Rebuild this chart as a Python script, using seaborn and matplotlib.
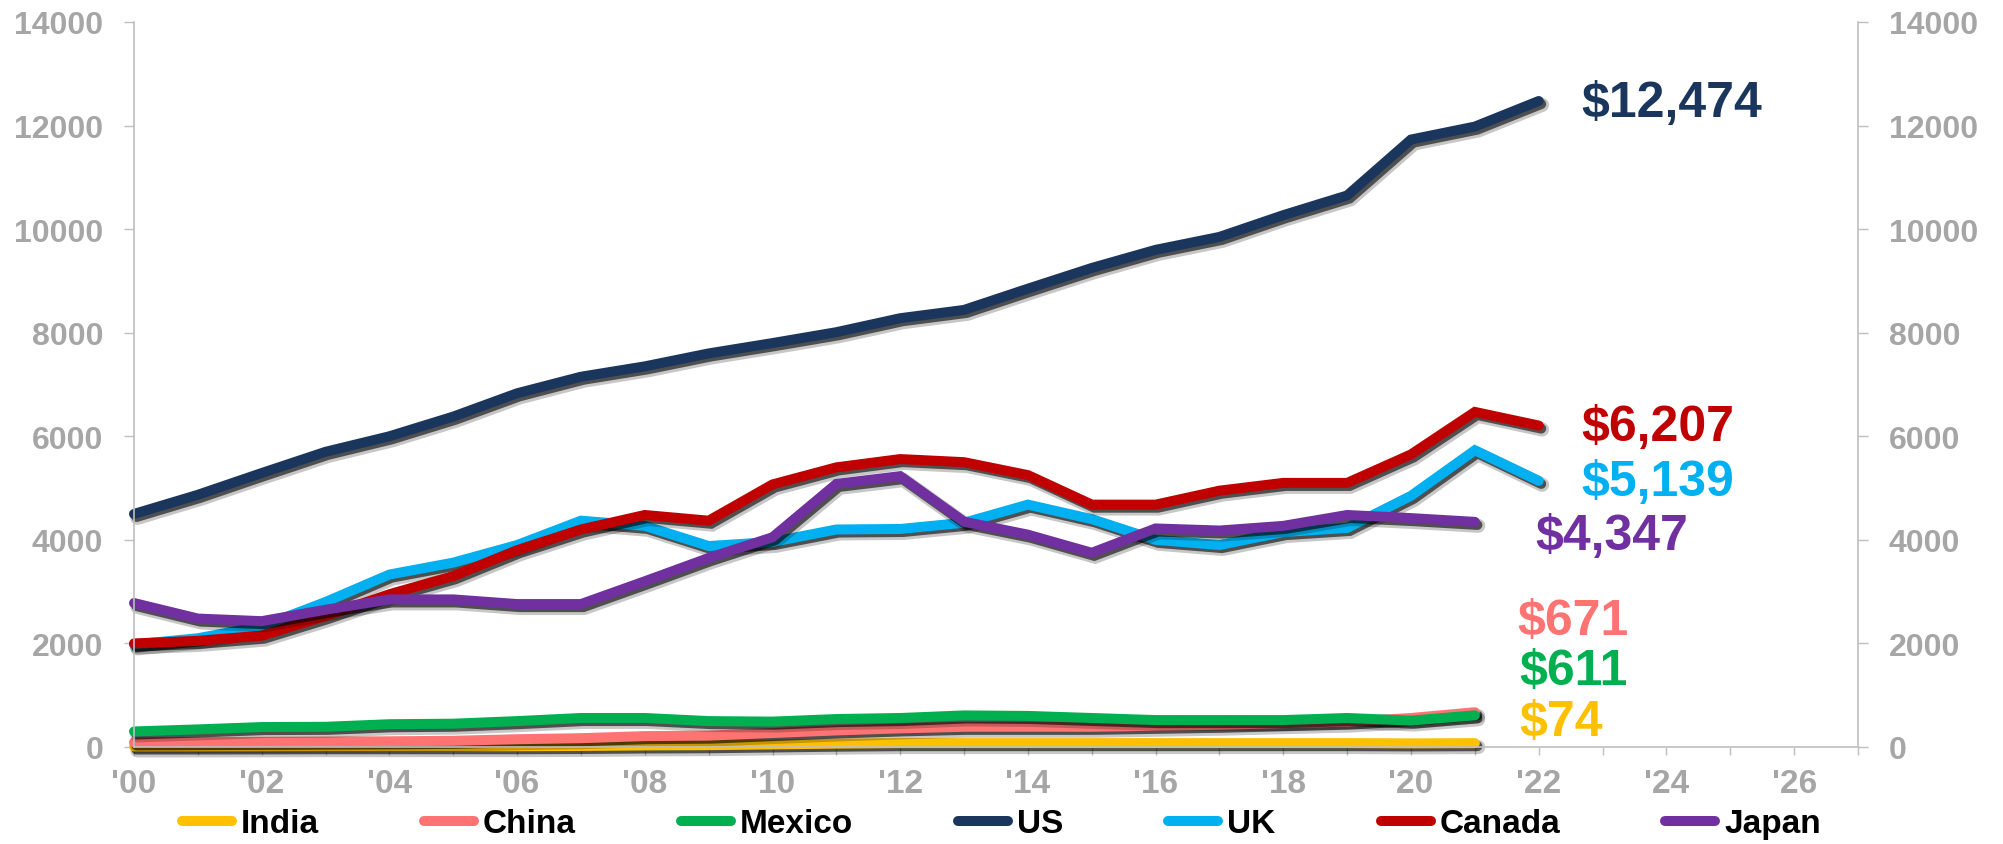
import numpy as np
import pandas as pd
import seaborn as sns
import matplotlib.pyplot as plt
import matplotlib.patheffects as pe
from matplotlib.lines import Line2D
from matplotlib.ticker import MultipleLocator, FuncFormatter

# ---- data -------------------------------------------------------------
years = list(range(2000, 2023))
countries = ["India", "China", "Mexico", "US", "UK", "Canada", "Japan"]

india = [10, 10, 12, 15, 15, 15, 15, 20, 30, 35, 50, 65, 75, 75, 75, 75, 75, 75,
         75, 75, 70, 74, np.nan]
china = [90, 95, 100, 105, 110, 120, 150, 170, 210, 220, 270, 320, 360, 390, 390,
         390, 410, 430, 460, 490, 560, 671, np.nan]
mexico = [300, 340, 385, 390, 440, 450, 500, 560, 560, 500, 490, 540, 560, 610,
          600, 560, 520, 520, 520, 560, 510, 611, np.nan]
us = [4500, 4870, 5290, 5700, 6000, 6380, 6830, 7150, 7350, 7600, 7800, 8010,
      8280, 8440, 8850, 9250, 9600, 9850, 10270, 10650, 11730, 11980, 12474]
uk = [1980, 2100, 2330, 2800, 3330, 3560, 3900, 4370, 4270, 3880, 3960, 4200,
      4210, 4330, 4680, 4400, 4000, 3900, 4150, 4230, 4850, 5730, 5139]
canada = [2000, 2050, 2150, 2530, 2950, 3300, 3800, 4200, 4480, 4370, 5070, 5400,
          5560, 5500, 5250, 4680, 4680, 4950, 5100, 5100, 5650, 6470, 6207]
japan = [2780, 2480, 2430, 2650, 2850, 2850, 2760, 2760, 3200, 3650, 4050, 5080,
         5230, 4350, 4100, 3750, 4220, 4180, 4270, 4480, 4420, 4347, np.nan]

series = [india, china, mexico, us, uk, canada, japan]

colors = {
    "India": "#FFC000",
    "China": "#FF7373",
    "Mexico": "#00B050",
    "US": "#1B365D",
    "UK": "#00B0F0",
    "Canada": "#C00000",
    "Japan": "#7030A0",
}

# where each end-of-line value label sits (year, value units)
label_pos = {
    "US": (2022.66, 12440),
    "Canada": (2022.66, 6180),
    "UK": (2022.66, 5120),
    "Japan": (2021.95, 4080),
    "China": (2021.66, 2430),
    "Mexico": (2021.70, 1470),
    "India": (2021.70, 485),
}

df = pd.DataFrame({
    "year": years * len(countries),
    "value": np.concatenate(series),
    "country": np.repeat(countries, len(years)),
}).dropna()

# ---- style ------------------------------------------------------------
sns.set_theme(style="white")
plt.rcParams["font.family"] = ["Liberation Sans", "DejaVu Sans"]
plt.rcParams["font.weight"] = "bold"

TICK_GRAY = "#A6A6A6"
AXIS_GRAY = "#BFBFBF"
LW = 7.2

fig, ax = plt.subplots(figsize=(20.03, 8.45), dpi=100)
fig.subplots_adjust(left=0.0669, right=0.9276, top=0.9728, bottom=0.1148)

sns.lineplot(data=df, x="year", y="value", hue="country", hue_order=countries,
             palette=colors, linewidth=LW, legend=False, errorbar=None, ax=ax)

# soft drop shadow under each line
shadow = [
    pe.SimpleLineShadow(offset=(2.4, -2.8), shadow_color="black", alpha=0.22,
                        linewidth=LW + 3),
    pe.SimpleLineShadow(offset=(1.8, -2.2), shadow_color="black", alpha=0.6),
    pe.Normal(),
]
for line in ax.lines:
    line.set_solid_capstyle("round")
    line.set_solid_joinstyle("miter")
    line.set_clip_on(False)
    line.set_path_effects(shadow)

# ---- axes -------------------------------------------------------------
ax.set_xlim(2000, 2027)
ax.set_ylim(0, 14000)
ax.set_xlabel("")
ax.set_ylabel("")

ax.xaxis.set_major_locator(MultipleLocator(2))
ax.xaxis.set_minor_locator(MultipleLocator(1))
ax.xaxis.set_major_formatter(FuncFormatter(lambda v, _: f"'{int(round(v)) % 100:02d}"))
ax.yaxis.set_major_locator(MultipleLocator(2000))
ax.yaxis.set_major_formatter(FuncFormatter(lambda v, _: f"{int(v)}"))

ax.tick_params(axis="x", which="both", bottom=True, direction="out", length=5.8,
               width=1, color=AXIS_GRAY)
ax.tick_params(axis="x", which="major", labelsize=24, labelcolor=TICK_GRAY, pad=9)
ax.tick_params(axis="y", which="major", left=True, right=True, labelleft=True,
               labelright=True, direction="out", length=7.2, width=1,
               color=AXIS_GRAY, labelsize=23, labelcolor=TICK_GRAY, pad=15)

for side in ("left", "right", "bottom"):
    ax.spines[side].set_visible(True)
    ax.spines[side].set_color(AXIS_GRAY)
    ax.spines[side].set_linewidth(1.2)
ax.spines["top"].set_visible(False)
ax.grid(False)

# ---- end-of-line value labels ----------------------------------------
for name, vals in zip(countries, series):
    last = [v for v in vals if not np.isnan(v)][-1]
    x, y = label_pos[name]
    ax.text(x, y, f"${int(last):,}", color=colors[name], fontsize=36,
            fontweight="bold", ha="left", va="center")

# ---- legend -----------------------------------------------------------
handles = [Line2D([0], [0], color=colors[c], lw=LW, solid_capstyle="round")
           for c in countries]
leg = fig.legend(handles, countries, loc="center", bbox_to_anchor=(0.5, 0.024),
                 ncol=7, frameon=False, fontsize=24, handlelength=1.5,
                 handletextpad=0.27, columnspacing=3.15)
for t in leg.get_texts():
    t.set_color("black")
    t.set_fontweight("bold")

fig.savefig("out.png", dpi=100)
